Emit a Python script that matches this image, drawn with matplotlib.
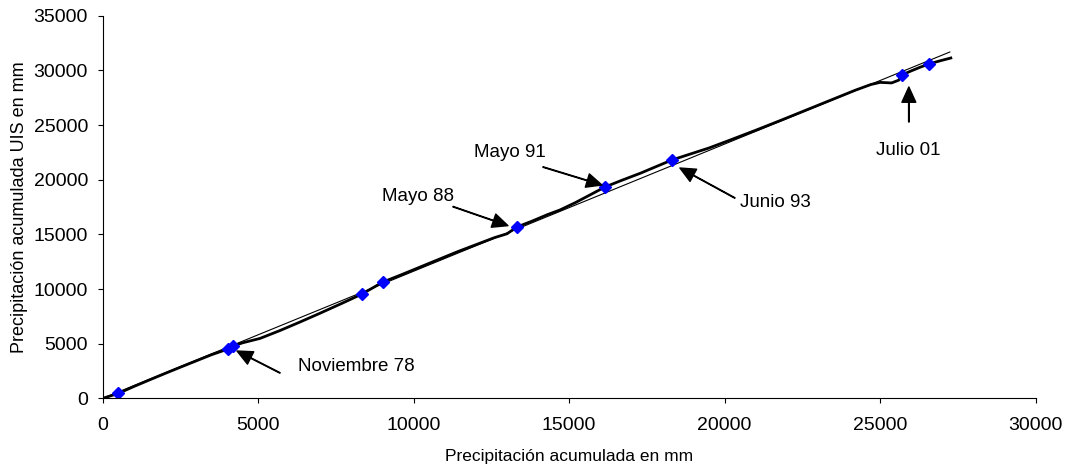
import matplotlib
matplotlib.use('Agg')
import matplotlib.pyplot as plt

plt.rcParams['font.family'] = ['Liberation Sans', 'DejaVu Sans']

# curva de doble masa (precipitación acumulada)
acum_ref = [0, 500, 1000, 1500, 2000, 2500, 3000, 3500, 4029, 4190, 4500, 5058,
            5700, 6344, 7000, 7700, 8338, 9013, 9600, 10200, 10800, 11400, 12000,
            12600, 13000, 13322, 13800, 14300, 14704, 15200, 15700, 16151, 16700,
            17300, 17800, 18305, 18900, 19500, 20200, 21000, 21800, 22600, 23400,
            24200, 24700, 25000, 25370, 25600, 25701, 26000, 26300, 26569, 26900,
            27276]
acum_uis = [0, 450, 1080, 1680, 2270, 2850, 3420, 3990, 4510, 4785, 5080, 5480,
            6200, 6980, 7800, 8700, 9543, 10640, 11300, 12000, 12700, 13400, 14050,
            14700, 15050, 15672, 16200, 16800, 17228, 17900, 18650, 19330, 19950,
            20600, 21200, 21800, 22350, 22900, 23650, 24520, 25420, 26340, 27260,
            28180, 28700, 28900, 28850, 29100, 29577, 29950, 30300, 30583, 30850,
            31131]

# puntos de cambio marcados
marca_x = [500, 4029, 4190, 8338, 9013, 13322, 16151, 18305, 25701, 26569]
marca_y = [450, 4510, 4785, 9543, 10640, 15672, 19330, 21800, 29577, 30583]

# recta de tendencia
tend_x = [0, 27244]
tend_y = [0, 31680]

# etiquetas: texto, punta flecha, cola flecha, posición texto, alineación
etiquetas = [
    ('Noviembre 78', (4318, 4327), (5701, 2323), (6279, 2955), 'left'),
    ('Mayo 88', (13032, 15796), (11264, 17534), (10138, 18449), 'center'),
    ('Mayo 91', (16055, 19513), (14158, 21160), (13096, 22532), 'center'),
    ('Junio 93', (18563, 21068), (20331, 18324), (21617, 17958), 'center'),
    ('Julio 01', (25926, 28479), (25926, 25277), (25894, 22624), 'center'),
]

fig = plt.figure(figsize=(10.67, 4.70), dpi=100)
ax = fig.add_axes([0.0963, 0.1525, 0.8742, 0.8141])

ax.plot(tend_x, tend_y, color='black', linewidth=0.8)
ax.plot(acum_ref, acum_uis, color='black', linewidth=2.0)
ax.plot(marca_x, marca_y, linestyle='none', marker='D', markersize=6.5,
        color='#0000FF', markeredgecolor='#0000FF')

for txt, punta, cola, pos, ha in etiquetas:
    ax.annotate('', xy=punta, xytext=cola,
                arrowprops=dict(facecolor='black', edgecolor='black', width=0.4,
                                headwidth=10, headlength=11, shrink=0))
    ax.text(pos[0], pos[1], txt, ha=ha, va='center', fontsize=13.5)

ax.set_xlim(0, 30000)
ax.set_ylim(0, 35000)
ax.set_xticks(range(0, 30001, 5000))
ax.set_yticks(range(0, 35001, 5000))
ax.tick_params(direction='out', length=3.6, labelsize=14)
ax.tick_params(axis='x', pad=10)
ax.tick_params(axis='y', pad=7)
ax.spines['top'].set_visible(False)
ax.spines['right'].set_visible(False)
ax.set_xlabel('Precipitación acumulada en mm', fontsize=12.5, labelpad=11)
ax.set_ylabel('Precipitación acumulada UIS en mm', fontsize=13, labelpad=4)

fig.savefig('out.png', dpi=100)
